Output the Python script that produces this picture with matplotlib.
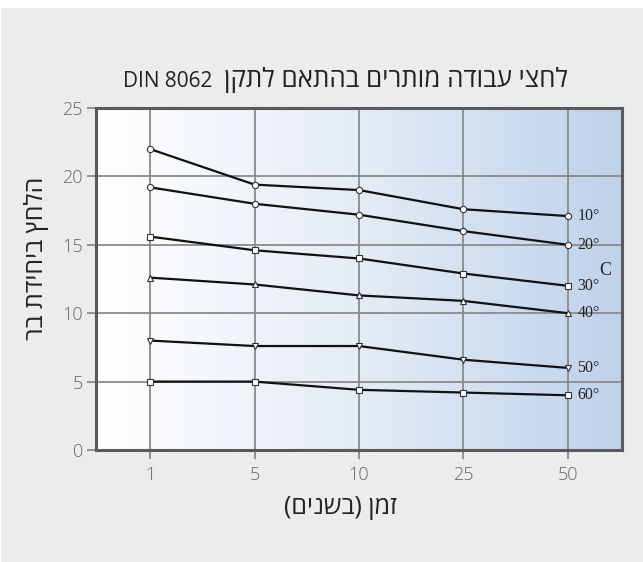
import matplotlib
matplotlib.use("Agg")
import matplotlib.pyplot as plt
import numpy as np
from matplotlib.colors import LinearSegmentedColormap
from matplotlib.patches import Rectangle

plt.rcParams['font.family'] = ['Open Sans', 'DejaVu Sans']


def heb(s):
    # matplotlib has no bidi: reverse Hebrew into visual order, mirror brackets
    r = s[::-1]
    return r.translate(str.maketrans("()", ")("))


# data
years = ["1", "5", "10", "25", "50"]
temps = ["10°", "20°", "30°", "40°", "50°", "60°"]
p10 = [22.0, 19.4, 19.0, 17.6, 17.1]
p20 = [19.2, 18.0, 17.2, 16.0, 15.0]
p30 = [15.6, 14.6, 14.0, 12.9, 12.0]
p40 = [12.6, 12.1, 11.3, 10.9, 10.0]
p50 = [8.0, 7.6, 7.6, 6.6, 6.0]
p60 = [5.0, 5.0, 4.4, 4.2, 4.0]
series = [p10, p20, p30, p40, p50, p60]
markers = ["o", "o", "s", "^", "v", "s"]

W, H = 643, 562
fig = plt.figure(figsize=(W / 100, H / 100), dpi=100, facecolor="white")
fig.add_artist(Rectangle((1 / W, 0), 1, 1 - 8 / H, transform=fig.transFigure,
                         facecolor="#ebeceb", edgecolor="none", zorder=-10))

L, R, T, B = 96, 622, 108, 450
ax = fig.add_axes([L / W, 1 - B / H, (R - L) / W, (B - T) / H])
ax.set_zorder(1)
ax.set_xlim(-0.517, 4.517)
ax.set_ylim(0, 25)

# background gradient
cmap = LinearSegmentedColormap.from_list("bg", ["#ffffff", "#e4ecf6", "#bed2ea"])
grad = np.linspace(0, 1, 256).reshape(1, -1)
ax.imshow(grad, aspect="auto", cmap=cmap, extent=(-0.517, 4.517, 0, 25),
          zorder=0, interpolation="bicubic")

x = np.arange(len(years))
for ys, m in zip(series, markers):
    ax.plot(x, ys, color="#111111", lw=1.6, marker=m, ms=4.5,
            mfc="white", mec="#333333", mew=0.8, zorder=3)

for ys, t in zip(series, temps):
    ax.text(x[-1] + 0.09, ys[-1], t, family="Liberation Serif", fontsize=11.5,
            color="#222222", va="center", ha="left", zorder=4)
ax.text(4.3, 13.15, "C", family="Liberation Serif", fontsize=13,
        color="#222222", va="center", ha="left", zorder=4)

ax.set_xticks(x)
ax.set_xticklabels(years)
ax.set_yticks([0, 5, 10, 15, 20, 25])
ax.grid(True, color="#8a8a8a", lw=1.3)
for ln in ax.get_xgridlines() + ax.get_ygridlines():
    ln.set_zorder(1)
ax.tick_params(axis="both", length=6.5, width=1.3, color="#8a8a8a",
               labelcolor="#666666", labelsize=13, pad=3)
ax.tick_params(axis="x", pad=5)
for lab in ax.get_xticklabels() + ax.get_yticklabels():
    lab.set_fontweight("light")

for sp in ax.spines.values():
    sp.set_color("#5a5a5a")
    sp.set_linewidth(2.2)
    sp.set_zorder(5)

# title: Latin part and Hebrew part side by side on one baseline
fig.text(123 / W, 1 - 87 / H, "DIN 8062", fontsize=15, color="#222222",
         ha="left", va="baseline")
fig.text(568 / W, 1 - 87 / H, heb("לחצי עבודה מותרים בהתאם לתקן"), fontsize=18.6,
         color="#222222", ha="right", va="baseline")
fig.text(340 / W, 1 - 508 / H, heb("זמן (בשנים)"), fontsize=18, color="#222222",
         ha="center", va="center")
fig.text(37 / W, 1 - 258 / H, heb("הלחץ ביחידת בר"), fontsize=18, color="#222222",
         ha="center", va="center", rotation=90)

fig.savefig("out.png", dpi=100, facecolor=fig.get_facecolor())
